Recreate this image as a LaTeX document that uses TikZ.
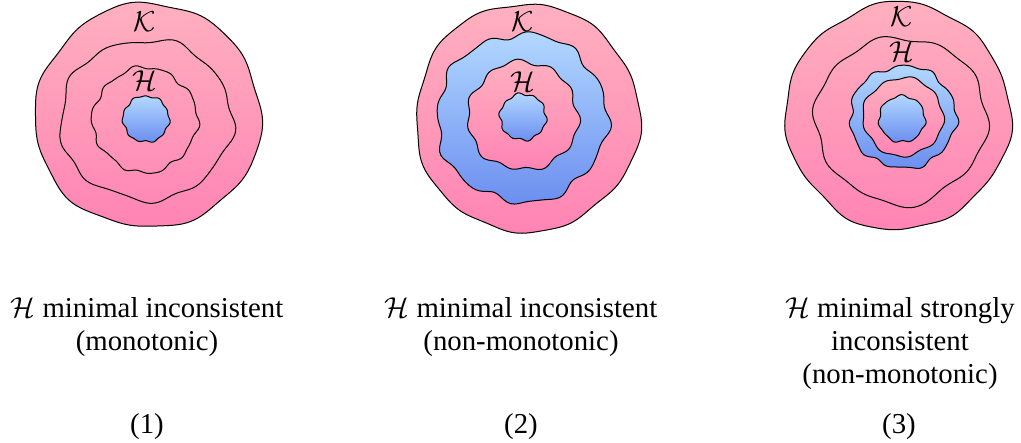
\documentclass[tikz,border=0pt]{standalone}
\usepackage{fontspec}
\setmainfont{Liberation Serif}
\definecolor{pinktop}{RGB}{255,176,192}
\definecolor{pinkbot}{RGB}{255,132,180}
\definecolor{bluetop}{RGB}{178,216,255}
\definecolor{bluebot}{RGB}{108,142,240}
\newcommand\wob[5]{plot[domain=0:360,samples=145,smooth,variable=\t] ({#1+#3*(1+#5)*cos(\t)},{#2+#4*(1+#5)*sin(\t)}) -- cycle}
\tikzset{
  pinkfill/.style={top color=pinktop,bottom color=pinkbot,draw=black,line width=0.5pt},
  bluefill/.style={top color=bluetop,bottom color=bluebot,draw=black,line width=0.5pt},
  contour/.style={draw=black,line width=0.5pt},
  lbl/.style={inner sep=0pt,font=\fontsize{14.5}{16}\selectfont},
  caption/.style={inner sep=0pt,align=center,anchor=north,font=\fontsize{14.4}{16.5}\selectfont},
  num/.style={inner sep=0pt,anchor=base,font=\fontsize{14.4}{16}\selectfont}
}
\begin{document}
\begin{tikzpicture}[x=0.5pt,y=-0.5pt]
\useasboundingbox (0,0) rectangle (1021,443);
% ---------- blob 1
\path[pinkfill] \wob{148}{116}{113}{112}{0.012*sin(6*\t+15)+0.008*sin(11*\t+70)+0.01*sin(3*\t)};
\draw[contour] \wob{146}{120}{86}{80}{0.025*sin(9*\t+10)+0.02*sin(5*\t+60)+0.008*sin(14*\t)};
\draw[contour] \wob{145}{120}{52}{52}{0.03*sin(10*\t+30)+0.012*sin(17*\t)+0.02*sin(4*\t+100)};
\path[bluefill] \wob{146}{119}{23}{23}{0.03*sin(11*\t)+0.03*sin(6*\t+60)};
\node[lbl] (k1) at (145,22) {$\mathcal{K}$};
\node[lbl] (h1) at (145,81) {$\mathcal{H}$};
% ---------- blob 2
\path[pinkfill] \wob{527}{118}{112}{114}{0.012*sin(5*\t+40)+0.008*sin(12*\t+10)+0.01*sin(3*\t+80)};
\path[bluefill] \wob{522}{118}{85}{84}{0.03*sin(12*\t+20)+0.02*sin(5*\t+70)+0.008*sin(19*\t)};
\path[pinkfill] \wob{523}{116}{55}{54}{0.035*sin(11*\t+50)+0.02*sin(6*\t+10)+0.015*sin(3*\t)};
\path[bluefill] \wob{523}{117}{23}{23}{0.04*sin(10*\t+30)+0.03*sin(6*\t)};
\node[lbl] (k2) at (523,22) {$\mathcal{K}$};
\node[lbl] (h2) at (523,82) {$\mathcal{H}$};
% ---------- blob 3
\path[pinkfill] \wob{898}{116}{112}{113}{0.012*sin(7*\t+25)+0.012*sin(4*\t+60)+0.006*sin(13*\t)};
\draw[contour] \wob{901}{119}{86}{81}{0.022*sin(10*\t+40)+0.018*sin(6*\t+10)+0.1*(((1+cos(\t-90))/2+0.0001)^60)};
\path[bluefill] \wob{903}{117}{53}{51}{0.03*sin(11*\t+15)+0.02*sin(5*\t+80)+0.01*sin(17*\t)};
\path[pinkfill] \wob{903}{117}{40}{39}{0.03*sin(9*\t+60)+0.02*sin(4*\t+30)};
\path[bluefill] \wob{902}{119}{23}{23}{0.04*sin(7*\t+20)+0.02*sin(11*\t)};
\node[lbl] (k3) at (902,17) {$\mathcal{K}$};
\node[lbl] (h3) at (902,52) {$\mathcal{H}$};
% ---------- captions
\node[caption] (c1) at (147,297) {$\mathcal{H}$ minimal inconsistent\\(monotonic)};
\node[caption] (c2) at (521,297) {$\mathcal{H}$ minimal inconsistent\\(non-monotonic)};
\node[caption] (c3) at (900,297) {$\mathcal{H}$ minimal strongly\\inconsistent\\(non-monotonic)};
\node[num] (n1) at (147,433) {(1)};
\node[num] (n2) at (521,433) {(2)};
\node[num] (n3) at (899,433) {(3)};
\end{tikzpicture}
\end{document}
